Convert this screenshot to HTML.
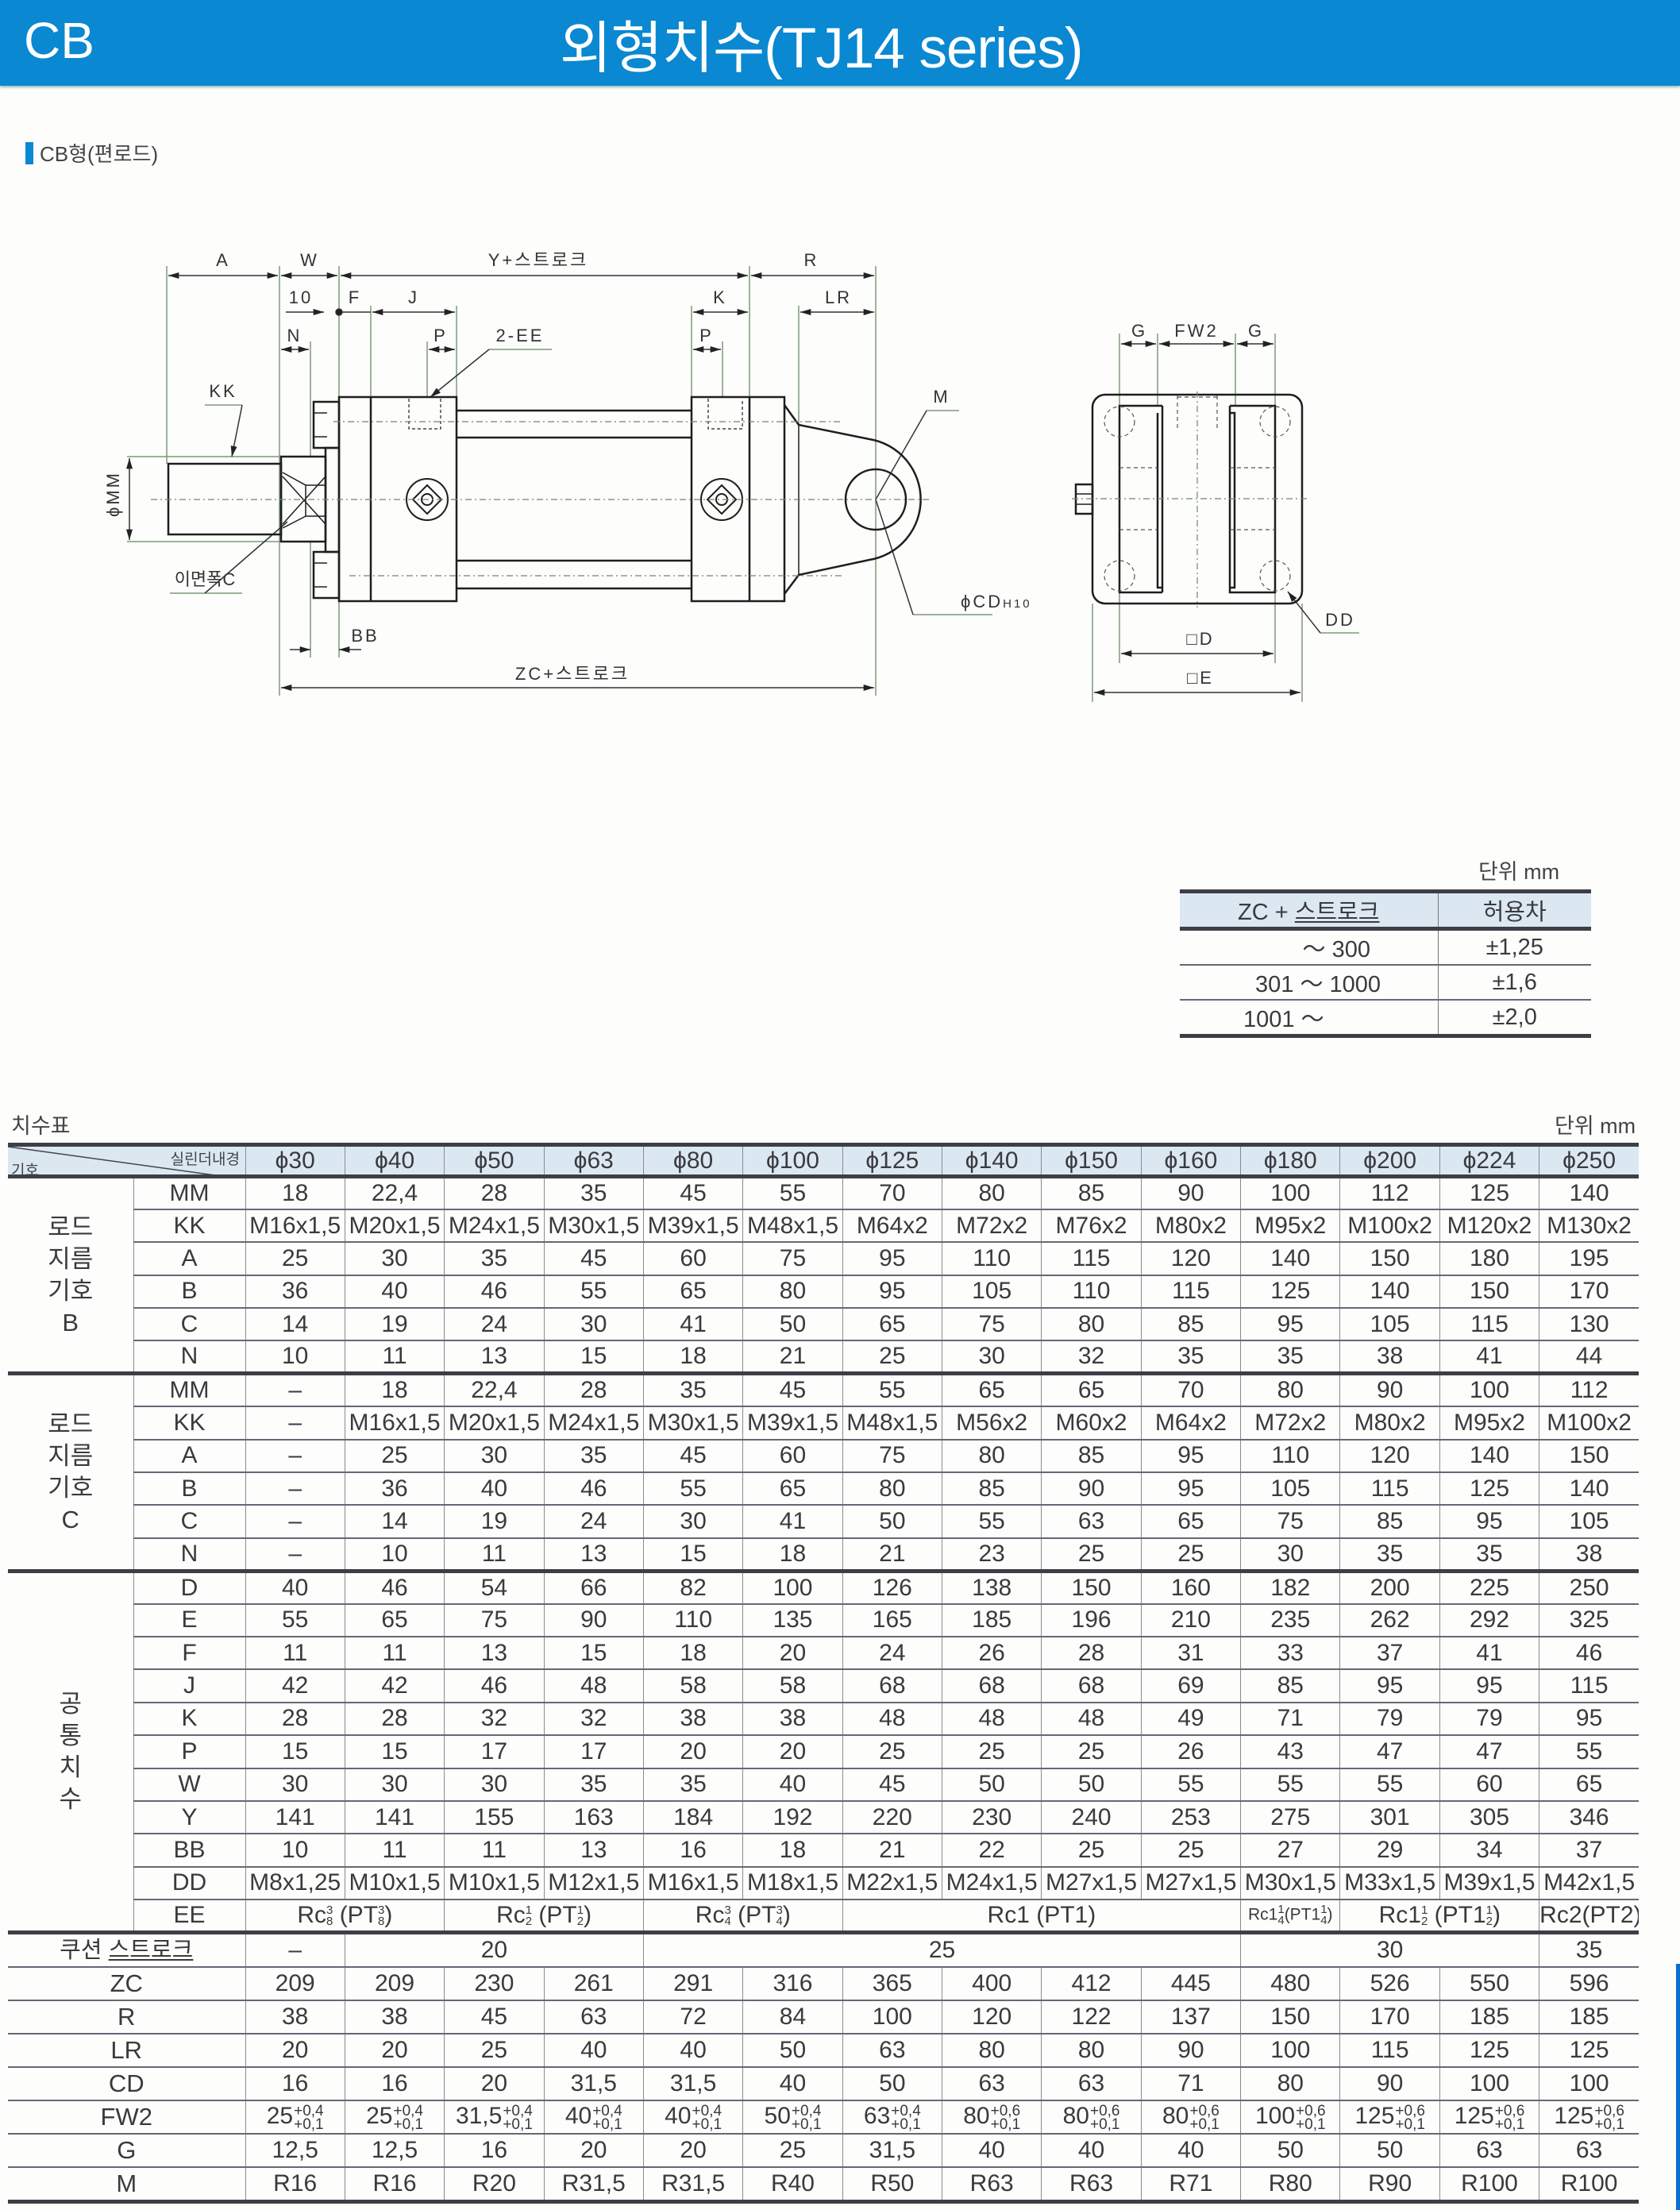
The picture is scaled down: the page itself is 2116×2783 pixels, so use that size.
<!DOCTYPE html>
<html><head><meta charset="utf-8">
<style>
*{margin:0;padding:0;box-sizing:border-box}
body{width:2116px;height:2783px;background:#fdfdfc;position:relative;overflow:hidden;font-family:"Liberation Sans Narrow","Liberation Sans","Noto Sans CJK KR",sans-serif;color:#3a3a3e}
.hdr{position:absolute;left:0;top:0;width:2116px;height:108px;background:#0a88d1;box-shadow:0 2px 3px #9bb}
.hdr .cb{position:absolute;left:30px;top:14px;font:64px "Liberation Sans","Noto Sans CJK KR",sans-serif;color:#fff}
.hdr .tt{position:absolute;left:705px;top:4px;font:71px "Liberation Sans","Noto Sans CJK KR",sans-serif;color:#fff;letter-spacing:-1px}
.sub{position:absolute;left:32px;top:174px;font:26px "Liberation Sans","Noto Sans CJK KR",sans-serif;color:#444}
.sub:before{content:"";display:inline-block;width:10px;height:28px;background:#0a88d1;vertical-align:-4px;margin-right:8px}
.lbl{position:absolute;font:27px "Liberation Sans","Noto Sans CJK KR",sans-serif;color:#444}
table{border-collapse:collapse;table-layout:fixed;position:absolute}
td{text-align:center;vertical-align:middle;font-size:30px;white-space:nowrap;overflow:hidden;border-bottom:2px solid #6a6575;border-left:1px solid #8a8a92;padding:0}
#m td{height:41.4px}
#m tr.h td{height:40px;background:#dbe8f2;border-bottom:5px solid #3e3e46;border-top:5px solid #3e3e46}
#m tr.t td{border-top:5px solid #3e3e46}
#m tr.last td{border-bottom:5px solid #3e3e46}
#m td.g{border-left:none;font-size:31px;line-height:40px;font-family:"Liberation Sans","Noto Sans CJK KR",sans-serif}
.fr{display:inline-block;vertical-align:middle;font-size:15px;line-height:14px;text-align:center}
.tol{display:inline-block;vertical-align:middle;font-size:19px;line-height:17px;text-align:left;margin-left:1px}
#tl td{font-size:29px;height:38px;border-left:1px solid #777}
#tl td:first-child{border-left:none}
</style></head><body>
<div class="hdr"><span class="cb">CB</span><span class="tt">외형치수(TJ14 series)</span></div>
<div style="position:absolute;left:2111px;top:2473px;width:6px;height:310px;background:#0a6fd0"></div>
<div class="sub">CB형(편로드)</div>

<svg style="position:absolute;left:0;top:0" width="2116" height="960" viewBox="0 0 2116 960">
<defs>
<marker id="a" viewBox="0 0 10 6" refX="10" refY="3" markerWidth="22" markerHeight="8" markerUnits="userSpaceOnUse" orient="auto-start-reverse"><path d="M0,0L10,3L0,6z" fill="#222"/></marker>
</defs>
<g font-family="Liberation Sans, Noto Sans CJK KR, sans-serif" font-size="22" fill="#333" text-anchor="middle" letter-spacing="3">
<text x="281" y="335">A</text><text x="390" y="335">W</text><text x="678" y="335">Y+스트로크</text><text x="1022" y="335">R</text>
<text x="379" y="382">10</text><text x="447" y="382">F</text><text x="521" y="382">J</text><text x="907" y="382">K</text><text x="1056" y="382">LR</text>
<text x="371" y="430">N</text><text x="555" y="430">P</text><text x="655" y="430">2-EE</text><text x="890" y="430">P</text>
<text x="281" y="500">KK</text><text x="1186" y="507">M</text>
<text x="460" y="808">BB</text><text x="721" y="856">ZC+스트로크</text>
<text x="1210" y="765" text-anchor="start">ϕCD<tspan font-size="15">H10</tspan></text>
<text x="258" y="737" letter-spacing="0">이면폭C</text>
<text x="150" y="622" transform="rotate(-90 150 622)">ϕMM</text>
<text x="1435" y="424">G</text><text x="1507" y="424">FW2</text><text x="1582" y="424">G</text>
<text x="1512" y="812">□D</text><text x="1512" y="861">□E</text><text x="1688" y="788">DD</text>
</g>
<g stroke="#7f9a78" stroke-width="1.5" fill="none">
<path d="M210 335V584M352 335V876M427 335V500M944 335V500M1103 335V876M467 385V500M575 385V500M538 430V500M871 385V500M910 430V500M1006 385V535M391 430V575M391 682V828M427 757V828"/>
<path d="M1410 420V511M1458 420V511M1556 420V511M1606 420V511M1410 746V835M1606 746V835M1376 760V884M1640 760V884"/>
<path d="M258 510H305M1167 517H1208M214 747H305M1150 774H1250M616 440H695M1663 797H1712M160 575H352M160 682H354"/>
</g>
<g stroke="#333" stroke-width="1.5" fill="none" marker-start="url(#a)" marker-end="url(#a)">
<line x1="212" y1="347" x2="350" y2="347"/><line x1="354" y1="347" x2="425" y2="347"/><line x1="429" y1="347" x2="942" y2="347"/><line x1="946" y1="347" x2="1101" y2="347"/>
<line x1="469" y1="393" x2="573" y2="393"/><line x1="873" y1="393" x2="942" y2="393"/><line x1="1008" y1="393" x2="1101" y2="393"/>
<line x1="354" y1="440" x2="389" y2="440"/><line x1="540" y1="440" x2="573" y2="440"/><line x1="873" y1="440" x2="908" y2="440"/>
<line x1="354" y1="866" x2="1101" y2="866"/><line x1="163" y1="577" x2="163" y2="680"/>
<line x1="1412" y1="433" x2="1456" y2="433"/><line x1="1460" y1="433" x2="1554" y2="433"/><line x1="1558" y1="433" x2="1604" y2="433"/>
<line x1="1412" y1="823" x2="1604" y2="823"/><line x1="1378" y1="872" x2="1638" y2="872"/>
</g>
<g stroke="#333" stroke-width="1.5" fill="none">
<path d="M360 393H408" marker-end="url(#a)"/><path d="M427 393H467"/><circle cx="427" cy="393" r="4" fill="#222"/>
<path d="M365 818H391" marker-end="url(#a)"/><path d="M455 818H427" marker-end="url(#a)"/>
<path d="M305 510L292 575" marker-end="url(#a)"/><path d="M616 440L542 500" marker-end="url(#a)"/>
<path d="M258 747L362 657"/><path d="M1167 517L1103 629"/><path d="M1150 774L1103 629"/><path d="M1663 797L1622 745" marker-end="url(#a)"/>
</g>
<g stroke="#1e1e1e" stroke-width="2.5" fill="none">
<rect x="212" y="584" width="142" height="89"/>
<rect x="354" y="575" width="56" height="107"/>
<path d="M356 595L385 611V650L356 665M385 611L410 611M385 650H410M356 600L410 660M356 660L410 600" stroke-width="1.5"/>
<rect x="410" y="564" width="17" height="131"/>
<rect x="395" y="506" width="32" height="58"/><rect x="395" y="695" width="32" height="58"/>
<path d="M395 520H412M395 550H412M395 709H412M395 739H412" stroke-width="1.5"/>
<rect x="427" y="500" width="148" height="257"/><line x1="467" y1="500" x2="467" y2="757"/>
<rect x="871" y="500" width="117" height="257"/><line x1="944" y1="500" x2="944" y2="757"/>
<path d="M575 517H871M575 551H871M575 706H871M575 741H871"/>
<path d="M988 510L1006 535L1095 553A77 77 0 0 1 1095 705L1006 724L988 748"/>
<line x1="1006" y1="535" x2="1006" y2="724" stroke-width="1.5"/>
<circle cx="1103" cy="629" r="38"/>
<circle cx="538" cy="629" r="26" stroke-width="2"/><path d="M538 611L556 629L538 647L520 629Z" stroke-width="2"/><circle cx="538" cy="629" r="7" stroke-width="2"/>
<circle cx="909" cy="629" r="26" stroke-width="2"/><path d="M909 611L927 629L909 647L891 629Z" stroke-width="2"/><circle cx="909" cy="629" r="7" stroke-width="2"/>
<path d="M515 502V540H555V502M892 502V540H935V502" stroke-dasharray="4 3" stroke-width="1.2"/>
<rect x="1376" y="497" width="264" height="263" rx="16"/>
<path d="M1464 511H1410V746H1464M1458 520V740H1464V511M1464 746V740"/>
<path d="M1549 511H1606V746H1549V511M1549 520H1555V740H1549"/>
<rect x="1355" y="610" width="21" height="37"/><path d="M1355 622H1376M1355 635H1376" stroke-width="1.5"/>
</g>
<g stroke="#6a8a6a" stroke-width="1.2" fill="none" stroke-dasharray="8 4 2 4">
<path d="M190 629H1170M1350 628H1650M1508 493V765M420 531H1060M440 725H1060"/>
</g>
<g stroke="#555" stroke-width="1.2" fill="none" stroke-dasharray="5 4">
<circle cx="1410" cy="531" r="19"/><circle cx="1606" cy="531" r="19"/><circle cx="1410" cy="725" r="19"/><circle cx="1606" cy="725" r="19"/>
<path d="M1483 498V543M1533 498V543M1483 500H1533M1410 589H1458M1549 589H1606M1410 667H1458M1549 667H1606"/>
</g>
</svg>

<div class="lbl" style="left:1862px;top:1076px">단위 mm</div>
<table id="tl" style="left:1486px;top:1120px;width:518px">
<col style="width:325px"><col style="width:193px">
<tr><td style="background:#dbe8f2;border-top:5px solid #3e3e46;border-bottom:5px solid #3e3e46;font-family:'Liberation Sans','Noto Sans CJK KR',sans-serif">ZC + <u>스트로크</u></td><td style="background:#dbe8f2;border-top:5px solid #3e3e46;border-bottom:5px solid #3e3e46;font-family:'Liberation Sans','Noto Sans CJK KR',sans-serif">허용차</td></tr>
<tr><td style="padding-left:70px">～ 300</td><td>±1,25</td></tr>
<tr><td style="text-align:left;padding-left:95px">301 ～ 1000</td><td>±1,6</td></tr>
<tr><td style="text-align:left;padding-left:80px;border-bottom:5px solid #3e3e46">1001 ～</td><td style="border-bottom:5px solid #3e3e46">±2,0</td></tr>
</table>

<div class="lbl" style="left:14px;top:1396px">치수표</div>
<div class="lbl" style="left:1958px;top:1396px">단위 mm</div>

<table id="m" style="left:10px;top:1439px;width:2054px">
<col style="width:158px"><col style="width:141px">
<col span="14" style="width:125.36px">
<tr class="h"><td colspan="2" style="border-left:none;position:relative;background:#dbe8f2"><svg style="position:absolute;left:0;top:0" width="299" height="40"><line x1="0" y1="0" x2="290" y2="40" stroke="#444" stroke-width="1.5"/><text x="292" y="22" text-anchor="end" font-size="19" fill="#444" font-family="Liberation Sans, Noto Sans CJK KR, sans-serif">실린더내경</text><text x="4" y="36" font-size="19" fill="#444" font-family="Liberation Sans, Noto Sans CJK KR, sans-serif">기호</text></svg></td><td>ϕ30</td><td>ϕ40</td><td>ϕ50</td><td>ϕ63</td><td>ϕ80</td><td>ϕ100</td><td>ϕ125</td><td>ϕ140</td><td>ϕ150</td><td>ϕ160</td><td>ϕ180</td><td>ϕ200</td><td>ϕ224</td><td>ϕ250</td></tr>
<tr><td class="g" rowspan="6">로드<br>지름<br>기호<br>B</td><td>MM</td><td>18</td><td>22,4</td><td>28</td><td>35</td><td>45</td><td>55</td><td>70</td><td>80</td><td>85</td><td>90</td><td>100</td><td>112</td><td>125</td><td>140</td></tr>
<tr><td>KK</td><td>M16x1,5</td><td>M20x1,5</td><td>M24x1,5</td><td>M30x1,5</td><td>M39x1,5</td><td>M48x1,5</td><td>M64x2</td><td>M72x2</td><td>M76x2</td><td>M80x2</td><td>M95x2</td><td>M100x2</td><td>M120x2</td><td>M130x2</td></tr>
<tr><td>A</td><td>25</td><td>30</td><td>35</td><td>45</td><td>60</td><td>75</td><td>95</td><td>110</td><td>115</td><td>120</td><td>140</td><td>150</td><td>180</td><td>195</td></tr>
<tr><td>B</td><td>36</td><td>40</td><td>46</td><td>55</td><td>65</td><td>80</td><td>95</td><td>105</td><td>110</td><td>115</td><td>125</td><td>140</td><td>150</td><td>170</td></tr>
<tr><td>C</td><td>14</td><td>19</td><td>24</td><td>30</td><td>41</td><td>50</td><td>65</td><td>75</td><td>80</td><td>85</td><td>95</td><td>105</td><td>115</td><td>130</td></tr>
<tr><td>N</td><td>10</td><td>11</td><td>13</td><td>15</td><td>18</td><td>21</td><td>25</td><td>30</td><td>32</td><td>35</td><td>35</td><td>38</td><td>41</td><td>44</td></tr>
<tr class="t"><td class="g" rowspan="6">로드<br>지름<br>기호<br>C</td><td>MM</td><td>–</td><td>18</td><td>22,4</td><td>28</td><td>35</td><td>45</td><td>55</td><td>65</td><td>65</td><td>70</td><td>80</td><td>90</td><td>100</td><td>112</td></tr>
<tr><td>KK</td><td>–</td><td>M16x1,5</td><td>M20x1,5</td><td>M24x1,5</td><td>M30x1,5</td><td>M39x1,5</td><td>M48x1,5</td><td>M56x2</td><td>M60x2</td><td>M64x2</td><td>M72x2</td><td>M80x2</td><td>M95x2</td><td>M100x2</td></tr>
<tr><td>A</td><td>–</td><td>25</td><td>30</td><td>35</td><td>45</td><td>60</td><td>75</td><td>80</td><td>85</td><td>95</td><td>110</td><td>120</td><td>140</td><td>150</td></tr>
<tr><td>B</td><td>–</td><td>36</td><td>40</td><td>46</td><td>55</td><td>65</td><td>80</td><td>85</td><td>90</td><td>95</td><td>105</td><td>115</td><td>125</td><td>140</td></tr>
<tr><td>C</td><td>–</td><td>14</td><td>19</td><td>24</td><td>30</td><td>41</td><td>50</td><td>55</td><td>63</td><td>65</td><td>75</td><td>85</td><td>95</td><td>105</td></tr>
<tr><td>N</td><td>–</td><td>10</td><td>11</td><td>13</td><td>15</td><td>18</td><td>21</td><td>23</td><td>25</td><td>25</td><td>30</td><td>35</td><td>35</td><td>38</td></tr>
<tr class="t"><td class="g" rowspan="11">공<br>통<br>치<br>수</td><td>D</td><td>40</td><td>46</td><td>54</td><td>66</td><td>82</td><td>100</td><td>126</td><td>138</td><td>150</td><td>160</td><td>182</td><td>200</td><td>225</td><td>250</td></tr>
<tr><td>E</td><td>55</td><td>65</td><td>75</td><td>90</td><td>110</td><td>135</td><td>165</td><td>185</td><td>196</td><td>210</td><td>235</td><td>262</td><td>292</td><td>325</td></tr>
<tr><td>F</td><td>11</td><td>11</td><td>13</td><td>15</td><td>18</td><td>20</td><td>24</td><td>26</td><td>28</td><td>31</td><td>33</td><td>37</td><td>41</td><td>46</td></tr>
<tr><td>J</td><td>42</td><td>42</td><td>46</td><td>48</td><td>58</td><td>58</td><td>68</td><td>68</td><td>68</td><td>69</td><td>85</td><td>95</td><td>95</td><td>115</td></tr>
<tr><td>K</td><td>28</td><td>28</td><td>32</td><td>32</td><td>38</td><td>38</td><td>48</td><td>48</td><td>48</td><td>49</td><td>71</td><td>79</td><td>79</td><td>95</td></tr>
<tr><td>P</td><td>15</td><td>15</td><td>17</td><td>17</td><td>20</td><td>20</td><td>25</td><td>25</td><td>25</td><td>26</td><td>43</td><td>47</td><td>47</td><td>55</td></tr>
<tr><td>W</td><td>30</td><td>30</td><td>30</td><td>35</td><td>35</td><td>40</td><td>45</td><td>50</td><td>50</td><td>55</td><td>55</td><td>55</td><td>60</td><td>65</td></tr>
<tr><td>Y</td><td>141</td><td>141</td><td>155</td><td>163</td><td>184</td><td>192</td><td>220</td><td>230</td><td>240</td><td>253</td><td>275</td><td>301</td><td>305</td><td>346</td></tr>
<tr><td>BB</td><td>10</td><td>11</td><td>11</td><td>13</td><td>16</td><td>18</td><td>21</td><td>22</td><td>25</td><td>25</td><td>27</td><td>29</td><td>34</td><td>37</td></tr>
<tr><td>DD</td><td>M8x1,25</td><td>M10x1,5</td><td>M10x1,5</td><td>M12x1,5</td><td>M16x1,5</td><td>M18x1,5</td><td>M22x1,5</td><td>M24x1,5</td><td>M27x1,5</td><td>M27x1,5</td><td>M30x1,5</td><td>M33x1,5</td><td>M39x1,5</td><td>M42x1,5</td></tr>
<tr><td>EE</td><td colspan="2">Rc<span class="fr">3<br>8</span> (PT<span class="fr">3<br>8</span>)</td><td colspan="2">Rc<span class="fr">1<br>2</span> (PT<span class="fr">1<br>2</span>)</td><td colspan="2">Rc<span class="fr">3<br>4</span> (PT<span class="fr">3<br>4</span>)</td><td colspan="4">Rc1 (PT1)</td><td style="font-size:21px">Rc1<span class="fr">1<br>4</span>(PT1<span class="fr">1<br>4</span>)</td><td colspan="2">Rc1<span class="fr">1<br>2</span> (PT1<span class="fr">1<br>2</span>)</td><td>Rc2(PT2)</td></tr>
<tr class="t"><td colspan="2" class="g" style="font-size:29px">쿠션 <u>스트로크</u></td><td>–</td><td colspan="3">20</td><td colspan="6">25</td><td colspan="3">30</td><td>35</td></tr>
<tr><td colspan="2" class="g">ZC</td><td>209</td><td>209</td><td>230</td><td>261</td><td>291</td><td>316</td><td>365</td><td>400</td><td>412</td><td>445</td><td>480</td><td>526</td><td>550</td><td>596</td></tr>
<tr><td colspan="2" class="g">R</td><td>38</td><td>38</td><td>45</td><td>63</td><td>72</td><td>84</td><td>100</td><td>120</td><td>122</td><td>137</td><td>150</td><td>170</td><td>185</td><td>185</td></tr>
<tr><td colspan="2" class="g">LR</td><td>20</td><td>20</td><td>25</td><td>40</td><td>40</td><td>50</td><td>63</td><td>80</td><td>80</td><td>90</td><td>100</td><td>115</td><td>125</td><td>125</td></tr>
<tr><td colspan="2" class="g">CD</td><td>16</td><td>16</td><td>20</td><td>31,5</td><td>31,5</td><td>40</td><td>50</td><td>63</td><td>63</td><td>71</td><td>80</td><td>90</td><td>100</td><td>100</td></tr>
<tr><td colspan="2" class="g">FW2</td><td>25<span class="tol">+0,4<br>+0,1</span></td><td>25<span class="tol">+0,4<br>+0,1</span></td><td>31,5<span class="tol">+0,4<br>+0,1</span></td><td>40<span class="tol">+0,4<br>+0,1</span></td><td>40<span class="tol">+0,4<br>+0,1</span></td><td>50<span class="tol">+0,4<br>+0,1</span></td><td>63<span class="tol">+0,4<br>+0,1</span></td><td>80<span class="tol">+0,6<br>+0,1</span></td><td>80<span class="tol">+0,6<br>+0,1</span></td><td>80<span class="tol">+0,6<br>+0,1</span></td><td>100<span class="tol">+0,6<br>+0,1</span></td><td>125<span class="tol">+0,6<br>+0,1</span></td><td>125<span class="tol">+0,6<br>+0,1</span></td><td>125<span class="tol">+0,6<br>+0,1</span></td></tr>
<tr><td colspan="2" class="g">G</td><td>12,5</td><td>12,5</td><td>16</td><td>20</td><td>20</td><td>25</td><td>31,5</td><td>40</td><td>40</td><td>40</td><td>50</td><td>50</td><td>63</td><td>63</td></tr>
<tr class="last"><td colspan="2" class="g">M</td><td>R16</td><td>R16</td><td>R20</td><td>R31,5</td><td>R31,5</td><td>R40</td><td>R50</td><td>R63</td><td>R63</td><td>R71</td><td>R80</td><td>R90</td><td>R100</td><td>R100</td></tr>
</table>
</body></html>
